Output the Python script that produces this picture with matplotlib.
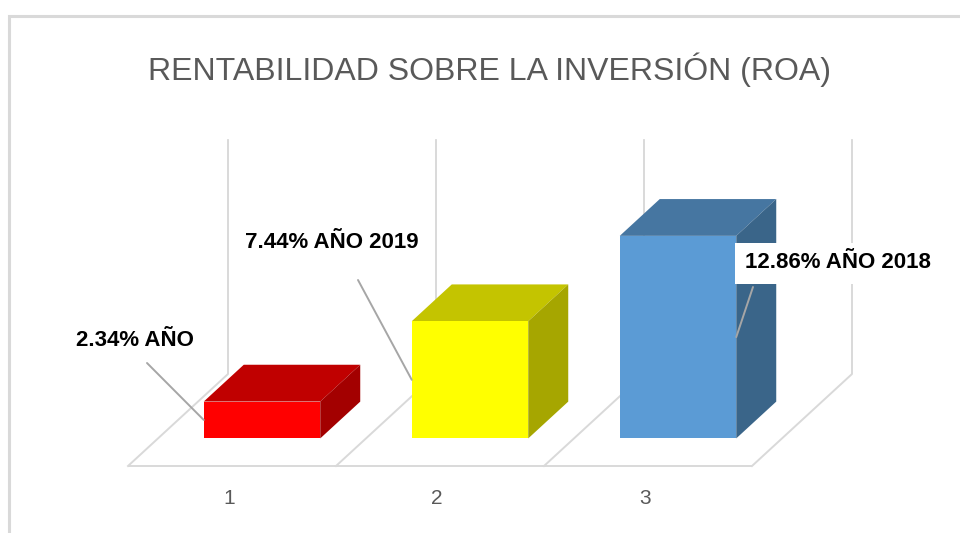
"""ROA 3D-style column chart."""
import matplotlib
matplotlib.use("Agg")
import matplotlib.pyplot as plt
from matplotlib.patches import Polygon, Rectangle

# data
categories = ["1", "2", "3"]
roa = [2.34, 7.44, 12.86]
bar_labels = ["2.34% AÑO", "7.44% AÑO 2019", "12.86% AÑO 2018"]
title = "RENTABILIDAD SOBRE LA INVERSIÓN (ROA)"

front_colors = ["#FF0000", "#FFFF00", "#5B9BD5"]
top_colors = ["#C00000", "#C4C400", "#4676A1"]
side_colors = ["#A30000", "#A6A600", "#3A6589"]

# geometry (pixels) of the fake 3d projection
W, H = 960, 533
CAT_PX = 208.0       # category pitch
X0_PX = 232.0        # front centre of the first category
FLOOR_PX = 67.0      # floor front edge, from bottom
PX_PER_UNIT = 15.75  # vertical scale
DEPTH_DX, DEPTH_DY = 100.0, 92.0
BAR_D0, BAR_D1 = 0.30, 0.70
BAR_W = 0.56
WALL_TOP = 14.85

GRID = "#D9D9D9"
LEADER = "#A6A6A6"
TEXT_GRAY = "#595959"

# label layout, pixels from the top-left corner
label_pos = [(76, 340), (245, 243), (745, 263)]
leader_start = [(147, 363), (358, 280), (753, 287)]
leader_side = ["left", "left", "right"]

fig = plt.figure(figsize=(W / 100, H / 100), dpi=100)
ax = fig.add_axes([0, 0, 1, 1])
ax.set_xlim(1 - X0_PX / CAT_PX, 1 + (W - X0_PX) / CAT_PX)
ax.set_ylim(-FLOOR_PX / PX_PER_UNIT, (H - FLOOR_PX) / PX_PER_UNIT)
ax.axis("off")

ddx = DEPTH_DX / CAT_PX
ddy = DEPTH_DY / PX_PER_UNIT


def proj(x, v, d):
    return x + d * ddx, v + d * ddy


def px_to_data(px, py):
    return (1 + (px - X0_PX) / CAT_PX,
            (H - py - FLOOR_PX) / PX_PER_UNIT)


xs = list(range(1, len(categories) + 1))
bounds = [x - 0.5 for x in xs] + [xs[-1] + 0.5]

# floor and back wall
fx0, fy0 = proj(bounds[0], 0, 0)
fx1, fy1 = proj(bounds[-1], 0, 0)
ax.plot([fx0, fx1], [fy0, fy1], color=GRID, lw=1.4, zorder=1,
        solid_capstyle="butt")
for b in bounds:
    p0 = proj(b, 0, 0)
    p1 = proj(b, 0, 1)
    p2 = proj(b, WALL_TOP, 1)
    ax.plot([p0[0], p1[0], p2[0]], [p0[1], p1[1], p2[1]], color=GRID,
            lw=1.4, zorder=1)

# bars
anchors = []
for x, v, fc, tc, sc, side in zip(xs, roa, front_colors, top_colors,
                                  side_colors, leader_side):
    xl, xr = x - BAR_W / 2, x + BAR_W / 2
    top = [proj(xl, v, BAR_D0), proj(xr, v, BAR_D0),
           proj(xr, v, BAR_D1), proj(xl, v, BAR_D1)]
    right = [proj(xr, 0, BAR_D0), proj(xr, v, BAR_D0),
             proj(xr, v, BAR_D1), proj(xr, 0, BAR_D1)]
    ax.add_patch(Polygon(top, closed=True, fc=tc, ec="none", zorder=2))
    ax.add_patch(Polygon(right, closed=True, fc=sc, ec="none", zorder=2))
    ax_x = xl if side == "left" else xr
    anchors.append(proj(ax_x, v / 2, BAR_D0))
ax.bar([x + BAR_D0 * ddx for x in xs], roa, width=BAR_W,
       bottom=BAR_D0 * ddy, color=front_colors, zorder=3)

# category labels
for x, c in zip(xs, categories):
    ax.text(x - 0.015, px_to_data(0, 499)[1], c, ha="center", va="center",
            fontsize=15, color=TEXT_GRAY, family="Liberation Sans")

# data labels with leader lines
for lab, pos, start, anc in zip(bar_labels, label_pos, leader_start, anchors):
    ax.annotate("", xy=anc, xytext=px_to_data(*start),
                arrowprops=dict(arrowstyle="-", color=LEADER, lw=1.4,
                                shrinkA=0, shrinkB=0), zorder=4)
    ax.text(*px_to_data(*pos), lab, ha="left", va="center", fontsize=16,
            fontweight="bold", color="black", family="Liberation Sans",
            zorder=5,
            bbox=dict(boxstyle="square,pad=0.45", fc="white", ec="none"))

fig.text(490 / W, 1 - 70 / H, title, ha="center", va="center",
         fontsize=23, color=TEXT_GRAY, family="Liberation Sans")

# chart frame
fig.patches.append(Rectangle((9 / W, -0.1), 1.2, 1.1 - 16 / H,
                             transform=fig.transFigure, fill=False,
                             ec=GRID, lw=2.2))

fig.savefig("out.png", dpi=100)
